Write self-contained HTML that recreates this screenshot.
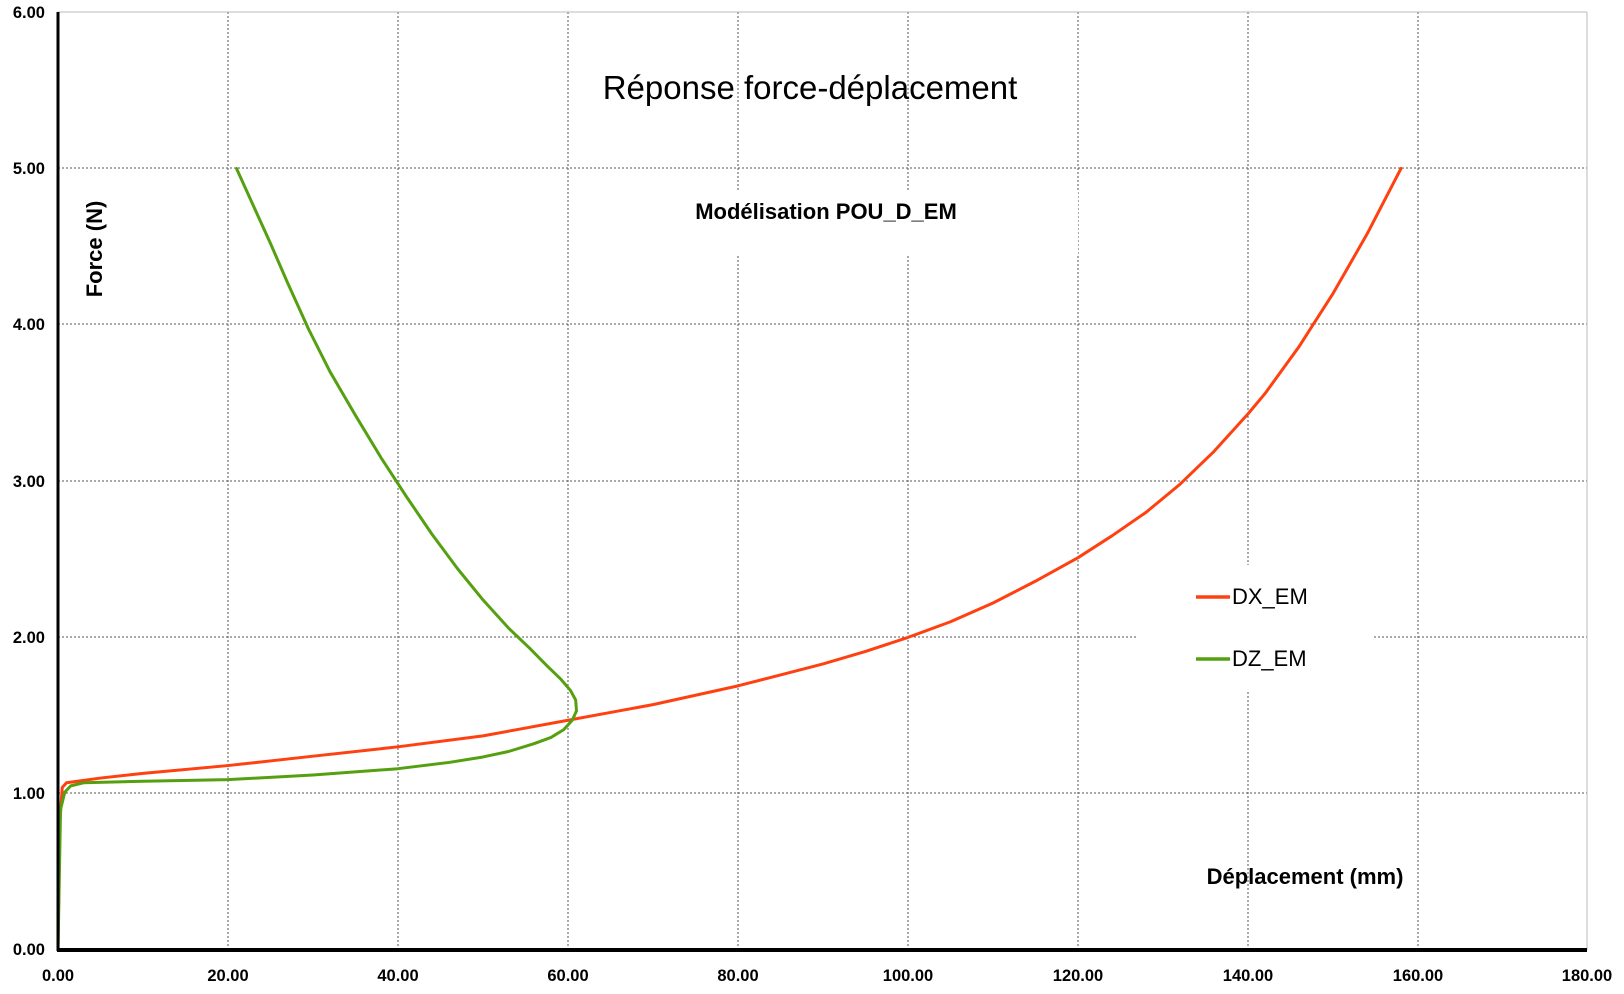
<!DOCTYPE html>
<html><head><meta charset="utf-8"><style>
body{margin:0;background:#fff;}
svg{display:block;font-family:"Liberation Sans",Arial,sans-serif;}
</style></head><body>
<svg width="1624" height="994" viewBox="0 0 1624 994">
<rect width="1624" height="994" fill="#fff"/>
<g stroke="#555" stroke-width="1" stroke-dasharray="2,2">
<line x1="228" y1="12" x2="228" y2="950"/><line x1="398" y1="12" x2="398" y2="950"/>
<line x1="568" y1="12" x2="568" y2="950"/><line x1="738" y1="12" x2="738" y2="950"/>
<line x1="908" y1="12" x2="908" y2="950"/><line x1="1078" y1="12" x2="1078" y2="950"/>
<line x1="1248" y1="12" x2="1248" y2="950"/><line x1="1418" y1="12" x2="1418" y2="950"/>
<line x1="58" y1="168" x2="1587" y2="168"/><line x1="58" y1="324" x2="1587" y2="324"/>
<line x1="58" y1="481" x2="1587" y2="481"/><line x1="58" y1="637" x2="1587" y2="637"/>
<line x1="58" y1="793" x2="1587" y2="793"/>
</g>
<line x1="58" y1="12" x2="1587" y2="12" stroke="#bbb"/>
<line x1="1587" y1="12" x2="1587" y2="950" stroke="#bbb"/>
<rect x="673" y="192" width="405" height="62" fill="#fff"/>
<rect x="1137" y="565" width="235" height="125" fill="#fff"/>
<g transform="translate(58,950) scale(8.5,-156.3)" fill="none" stroke-width="3" stroke-linejoin="round" stroke-linecap="round">
<path vector-effect="non-scaling-stroke" stroke="#ff4010" d="M0,0 L0.2,0.8 L0.5,1.04 L1,1.07 L5,1.1 L10,1.13 L20,1.18 L30,1.24 L40,1.3 L50,1.37 L55,1.42 L60,1.47 L65,1.52 L70,1.57 L75,1.63 L80,1.69 L85,1.76 L90,1.83 L95,1.91 L100,2.0 L105,2.1 L110,2.22 L115,2.36 L120,2.51 L124,2.65 L128,2.8 L132,2.98 L136,3.19 L140,3.43 L142,3.56 L144,3.71 L146,3.86 L148,4.03 L150,4.2 L152,4.39 L154,4.58 L156,4.79 L158,5.0"/>
<path vector-effect="non-scaling-stroke" stroke="#55a010" d="M0,0 L0.3,0.9 L0.8,1.01 L1.5,1.05 L3,1.07 L10,1.08 L20,1.09 L30,1.12 L40,1.16 L46,1.2 L50,1.235 L53,1.27 L56,1.32 L58,1.36 L59.5,1.41 L60.5,1.47 L61,1.53 L60.9,1.6 L60.3,1.66 L59.2,1.73 L57.5,1.82 L55.5,1.93 L53,2.06 L50,2.24 L47,2.44 L44,2.66 L41,2.9 L38,3.15 L35,3.42 L32,3.7 L29.5,3.97 L27,4.27 L25,4.52 L23,4.76 L21,5.0"/>
</g>
<line x1="58" y1="12" x2="58" y2="951" stroke="#000" stroke-width="3"/>
<line x1="57" y1="950" x2="1587" y2="950" stroke="#000" stroke-width="4"/>
<g font-size="16.5" font-weight="bold" text-anchor="end">
<text x="45" y="18">6.00</text><text x="45" y="174">5.00</text><text x="45" y="330">4.00</text>
<text x="45" y="487">3.00</text><text x="45" y="643">2.00</text><text x="45" y="799">1.00</text>
<text x="45" y="955">0.00</text>
</g>
<g font-size="16.5" font-weight="bold" text-anchor="middle">
<text x="58" y="981">0.00</text><text x="228" y="981">20.00</text><text x="398" y="981">40.00</text>
<text x="568" y="981">60.00</text><text x="738" y="981">80.00</text><text x="908" y="981">100.00</text>
<text x="1078" y="981">120.00</text><text x="1248" y="981">140.00</text><text x="1418" y="981">160.00</text>
<text x="1587" y="981">180.00</text>
</g>
<text x="810" y="99" font-size="33" text-anchor="middle">Réponse force-déplacement</text>
<text x="826" y="219" font-size="22" font-weight="bold" text-anchor="middle">Modélisation POU_D_EM</text>
<text x="1305" y="884" font-size="22" font-weight="bold" text-anchor="middle">Déplacement (mm)</text>
<text transform="translate(102,249) rotate(-90)" font-size="22" font-weight="bold" text-anchor="middle">Force (N)</text>
<line x1="1196" y1="597" x2="1230" y2="597" stroke="#ff4010" stroke-width="3.5"/>
<text x="1232" y="604" font-size="22">DX_EM</text>
<line x1="1196" y1="659" x2="1230" y2="659" stroke="#55a010" stroke-width="3.5"/>
<text x="1232" y="666" font-size="22">DZ_EM</text>
</svg>
</body></html>
